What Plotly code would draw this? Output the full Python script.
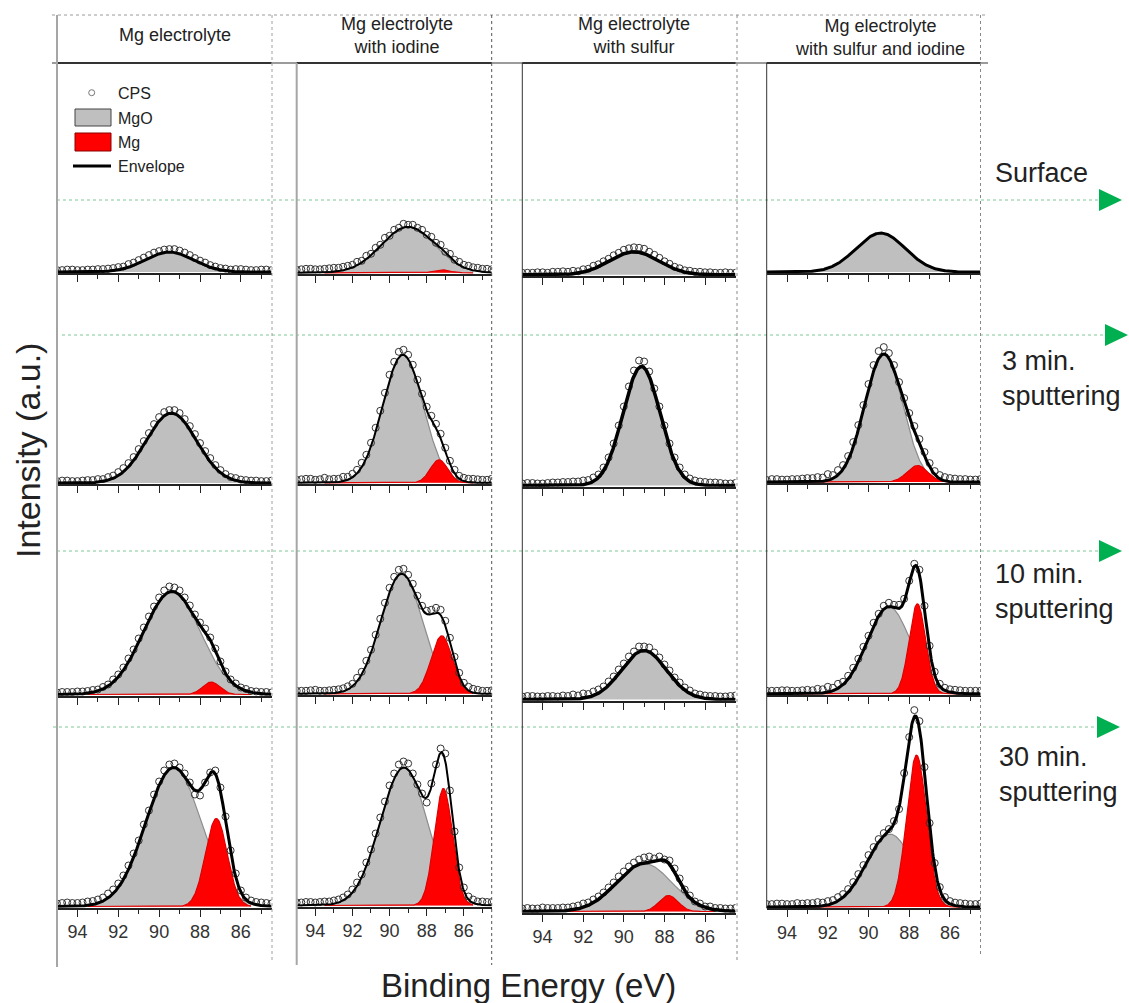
import numpy as np
import plotly.graph_objects as go

# ---------------- data ----------------
COLUMNS = ["Mg electrolyte", "Mg electrolyte<br>with iodine",
           "Mg electrolyte<br>with sulfur", "Mg electrolyte<br>with sulfur and iodine"]
ROWS = ["Surface", "3 min.<br>sputtering", "10 min.<br>sputtering", "30 min.<br>sputtering"]
X_TICKS = [94, 92, 90, 88, 86]
X_MINOR = [93, 91, 89, 87, 85]

# fitted components (rows: Surface, 3, 10, 30 min; columns as COLUMNS); intensity in a.u.
MGO_CENTER = [[89.5, 89.0, 89.5, 89.4],
              [89.4, 89.28, 89.13, 89.25],
              [89.37, 89.35, 89.01, 89.0],
              [89.29, 89.23, 89.0, 88.95]]
MGO_HEIGHT = [[20, 46, 23, 39],
              [70, 128, 119, 128],
              [103, 120, 49, 87],
              [139, 138, 48, 73]]
MGO_FWHM = [[2.8, 3.4, 2.85, 2.85],
            [2.9, 2.55, 2.15, 2.2],
            [3.3, 2.65, 2.6, 2.5],
            [3.2, 3.0, 3.2, 2.7]]
MG_CENTER = [[87.4, 87.2, 87.6, 87.6],
             [87.4, 87.34, 87.6, 87.6],
             [87.45, 87.19, 87.6, 87.6],
             [87.2, 87.1, 87.8, 87.64]]
MG_HEIGHT = [[0, 3, 0, 0],
             [0, 23, 0, 16.6],
             [12.4, 58, 0, 90],
             [88, 117, 16, 152]]
MG_FWHM = [[1.0, 1.0, 1.0, 1.0],
           [1.0, 1.1, 1.0, 1.2],
           [1.0, 1.35, 1.0, 0.95],
           [1.25, 1.15, 1.1, 1.15]]

# measured counts (CPS): two interleaved energy sets
CPS_ENERGY = [95.0, 94.5, 94.0, 93.5, 93.0, 92.5, 92.0, 91.5, 91.0, 90.5, 90.0,
              89.5, 89.0, 88.5, 88.0, 87.5, 87.0, 86.5, 86.0, 85.5, 85.0, 84.5]
CPS_ENERGY_B = [94.75, 94.25, 93.75, 93.25, 92.75, 92.25, 91.75, 91.25, 90.75, 90.25,
                89.75, 89.25, 88.75, 88.25, 87.75, 87.25, 86.75, 86.25, 85.75, 85.25, 84.75]

CPS_SURFACE = [
    [2, 2.5, 2, 2.5, 3, 3.5, 5, 8, 12, 17, 21, 23, 21.5, 17, 11.5, 7, 4, 2.5, 3, 2, 2.5, 2],
    [3, 4, 3.5, 4, 5, 6, 8, 12, 19, 28, 37, 45, 48, 45, 38, 30, 21, 13, 8, 5.5, 4, 3.5],
    [2, 2, 2.5, 3, 3.5, 4, 5.5, 9, 13.5, 19.5, 25, 27.5, 26, 20, 13.5, 8, 4.5, 3, 2.5, 2, 2.5, 2],
    [],
]
CPS_SURFACE_B = [
    [2, 2.5, 2, 2.5, 3, 4, 5.5, 9.5, 14.5, 19.5, 22.5, 23, 19.5, 14, 9.5, 5.5, 3.5, 3, 2.5, 2, 2.5],
    [3.5, 4, 3.5, 4.5, 5, 7, 11, 17, 25, 35, 43, 49, 48, 43, 36, 28, 19, 11, 7, 5, 4],
    [2, 2.5, 2, 3, 3, 3.5, 6, 10.5, 16, 22, 26.5, 27, 23, 17, 11, 6.5, 4, 3, 2.5, 2, 2],
    [],
]
CPS_3MIN = [
    [2, 2.5, 2, 3, 4, 6, 11, 20, 34, 50, 66, 73, 70, 57, 40, 25, 13, 6, 3.5, 2.5, 2, 2.5],
    [3, 4, 3, 5, 4, 6, 9, 20, 40, 72, 108, 131, 128, 103, 76, 59, 35, 13, 5, 4, 3, 4],
    [2, 2.5, 2, 3, 3.5, 4, 5, 8, 18, 42, 79, 115, 124, 97, 60, 28, 11, 5, 3.5, 3, 2, 2.5],
    [2, 3, 2.5, 3, 4, 5, 8, 12, 26, 57, 98, 131, 129, 100, 69, 43, 19, 7, 4, 3, 2.5, 3],
]
CPS_3MIN_B = [
    [2.5, 2, 2.5, 3, 4, 7.5, 15, 26, 42, 59, 71, 73, 64, 49, 32, 18, 9, 5, 3, 2.5, 2],
    [3.5, 4, 3.5, 3.5, 4, 6, 13, 28, 55, 90, 121, 133, 118, 89, 67, 49, 22, 7, 4, 3.5, 3],
    [2.5, 2, 2.5, 3, 3.5, 4, 5.5, 11, 28, 60, 99, 125, 114, 79, 42, 18, 7, 4, 3, 2.5, 2],
    [3, 2.5, 3, 3.5, 4, 4.5, 7, 17, 40, 77, 117, 135, 117, 84, 56, 30, 11, 5, 3.5, 3, 2.5],
]
CPS_10MIN = [
    [2, 2.5, 3, 3.5, 5, 10, 20, 36, 56, 78, 97, 108, 104, 89, 72, 57, 33, 15, 7, 3.5, 2.5, 2],
    [3, 3, 4, 3, 4, 5.5, 10, 22, 44, 75, 106, 124, 119, 98, 83, 86, 73, 37, 11, 5, 3, 3.5],
    [3, 3.5, 3, 3.5, 4, 5, 6, 8, 13, 23, 36, 48, 53, 47, 35, 22, 12, 6, 4, 3.5, 3, 4],
    [3, 3, 3.5, 3, 4, 5, 7, 10, 18, 35, 58, 80, 91, 89, 113, 124, 48, 10, 4.5, 3.5, 3, 3],
]
CPS_10MIN_B = [
    [2.5, 2.5, 3, 4.5, 7.5, 15, 27, 45, 67, 88, 104, 107, 97, 80, 66, 46, 23, 11, 5.5, 3, 2.5],
    [3, 3.5, 3, 3.5, 4.5, 7.5, 16, 33, 59, 91, 117, 125, 110, 88, 84, 84, 56, 21, 7, 4, 3],
    [3.5, 3, 3.5, 3, 3.5, 4, 5.5, 10, 18, 30, 43, 53, 52, 42, 29, 17, 9, 5, 3.5, 3, 3.5],
    [3, 3.5, 3, 3.5, 3.5, 4.5, 6, 12, 26, 47, 71, 88, 89, 95, 130, 88, 22, 6, 4, 3, 3],
]
CPS_30MIN = [
    [3, 4, 3.5, 5, 7, 13, 23, 41, 66, 96, 125, 142, 139, 124, 111, 134, 119, 56, 16, 6, 4, 3],
    [3, 3.5, 3, 4, 5, 8, 16, 31, 56, 88, 120, 141, 142, 121, 103, 141, 152, 74, 18, 6, 4, 3.5],
    [3, 3, 4, 3.5, 4, 5, 8, 12, 19, 29, 40, 49, 54, 53, 52, 43, 22, 10, 5, 3.5, 3, 3.5],
    [3, 3.5, 3, 4, 4, 5, 6, 10, 18, 33, 52, 68, 78, 98, 170, 186, 84, 20, 6, 4, 3, 3.5],
]
CPS_30MIN_B = [
    [3.5, 3.5, 4, 5.5, 9, 17, 31, 53, 82, 112, 136, 143, 133, 112, 124, 136, 90, 33, 9, 4.5, 3.5],
    [3, 3.5, 3.5, 4, 6, 11, 23, 43, 72, 104, 132, 144, 132, 112, 122, 157, 115, 38, 9, 4, 3.5],
    [3.5, 3, 3.5, 3.5, 4, 6, 9, 15, 24, 35, 45, 52, 55, 55, 51, 33, 16, 8, 5, 3.5, 3],
    [3, 3.5, 3, 3.5, 4, 4.5, 7, 13, 25, 42, 60, 74, 86, 134, 197, 140, 44, 10, 4.5, 3.5, 3],
]
CPS_ALL = [CPS_SURFACE, CPS_3MIN, CPS_10MIN, CPS_30MIN]
CPS_ALL_B = [CPS_SURFACE_B, CPS_3MIN_B, CPS_10MIN_B, CPS_30MIN_B]

# ---------------- layout geometry (pixels) ----------------
W, H = 1129, 1003
FONT = "Liberation Sans, Arial, sans-serif"
COL_X = [(57, 271.5), (296.7, 491.7), (522.3, 735.5), (766.7, 980.5)]
BASELINES = [[273.3, 484.3, 695.7, 907.7],
             [274, 484, 695, 906.7],
             [276, 486.7, 700.7, 912.7],
             [273.3, 483.3, 695, 908.3]]
PLOT_TOP = 63
ENV_WIDTH = [3, 2, 3.5, 3]


def px(x):
    return x / W


def py(y):
    return 1 - y / H


def peak(e, center, height, fwhm):
    # Gaussian line shape of a fitted XPS component
    return height * np.exp(-4 * np.log(2) * ((e - center) / fwhm) ** 2)


e_env = np.linspace(95, 84.5, 421)
e_fit = np.linspace(93.5, 85.5, 321)

fig = go.Figure()
layout = dict(width=W, height=H, margin=dict(l=0, r=0, t=0, b=0),
              paper_bgcolor="white", plot_bgcolor="rgba(0,0,0,0)",
              showlegend=False, font=dict(family=FONT, color="#222"))

for r in range(4):
    for c in range(4):
        k = r * 4 + c + 1
        xa = "x" if k == 1 else f"x{k}"
        ya = "y" if k == 1 else f"y{k}"
        top = PLOT_TOP if r == 0 else BASELINES[c][r - 1]
        bot = BASELINES[c][r]
        span = bot - top
        layout[f"xaxis{k}"] = dict(
            domain=[px(COL_X[c][0]), px(COL_X[c][1])], anchor=ya,
            range=[95, 84.5], showline=True, linecolor="#222", linewidth=2,
            ticks="outside", tickmode="array", tickvals=X_TICKS, ticklen=7,
            tickwidth=1, tickcolor="#222",
            minor=dict(tickmode="array", tickvals=X_MINOR, ticks="outside",
                       ticklen=4, tickwidth=1, tickcolor="#222"),
            showticklabels=(r == 3), tickfont=dict(size=18, color="#333"),
            showgrid=False, zeroline=False, fixedrange=True)
        layout[f"yaxis{k}"] = dict(
            domain=[py(bot), py(top)], anchor=xa, range=[-1.2, span - 1.2],
            visible=False, fixedrange=True)

        mgo = peak(e_fit, MGO_CENTER[r][c], MGO_HEIGHT[r][c], MGO_FWHM[r][c])
        fig.add_trace(go.Scatter(x=e_fit, y=mgo, xaxis=xa, yaxis=ya, mode="lines",
                                 fill="tozeroy", fillcolor="#bfbfbf",
                                 line=dict(color="#8c8c8c", width=1.2), hoverinfo="skip"))
        if MG_HEIGHT[r][c] > 0:
            mg = peak(e_fit, MG_CENTER[r][c], MG_HEIGHT[r][c], MG_FWHM[r][c])
            fig.add_trace(go.Scatter(x=e_fit, y=mg, xaxis=xa, yaxis=ya, mode="lines",
                                     fill="tozeroy", fillcolor="#ff0000",
                                     line=dict(color="#e00000", width=1.2), hoverinfo="skip"))
        cps_a = CPS_ALL[r][c]
        cps_b = CPS_ALL_B[r][c]
        if cps_a:
            fig.add_trace(go.Scatter(x=list(CPS_ENERGY) + list(CPS_ENERGY_B),
                                     y=list(cps_a) + list(cps_b), xaxis=xa, yaxis=ya,
                                     mode="markers",
                                     marker=dict(symbol="circle-open", size=7, color="#333",
                                                 line=dict(width=1))))
        env = (peak(e_env, MGO_CENTER[r][c], MGO_HEIGHT[r][c], MGO_FWHM[r][c]) +
               peak(e_env, MG_CENTER[r][c], MG_HEIGHT[r][c], MG_FWHM[r][c]))
        fig.add_trace(go.Scatter(x=e_env, y=env, xaxis=xa, yaxis=ya, mode="lines",
                                 line=dict(color="black", width=ENV_WIDTH[c]), hoverinfo="skip"))

shapes = []


def line(x0, y0, x1, y1, color, width, dash="solid", layer="above"):
    shapes.append(dict(type="line", xref="paper", yref="paper", x0=px(x0), y0=py(y0),
                       x1=px(x1), y1=py(y1), layer=layer,
                       line=dict(color=color, width=width, dash=dash)))


# header box
line(52, 15, 988, 15, "#9a9a9a", 1, "dot")
line(52, 63, 988, 63, "#7a7a7a", 1.5)
for x0, x1 in COL_X:
    line(x0, 63, x1, 63, "#333", 2)
# column borders
line(57, 15, 57, 967, "#a6a6a6", 2)
line(272, 15, 272, 963, "#a0a0a0", 1, "dot")
line(296.7, 63, 296.7, 965, "#a6a6a6", 2)
line(491.7, 15, 491.7, 965, "#555", 1, "dot")
line(522.3, 63, 522.3, 912.7, "#333", 1)
line(737, 15, 737, 963, "#888", 1, "dot")
line(766.7, 63, 766.7, 908.3, "#333", 1)
line(980.5, 15, 980.5, 955, "#888", 1, "dot")

# green guide lines and arrows
GREEN_Y = [200, 335, 551, 727]
GREEN_X0 = [57, 62, 57, 53]
ARROW_X = [1099, 1105, 1099, 1097]
for gy, gx0, ax in zip(GREEN_Y, GREEN_X0, ARROW_X):
    line(gx0, gy, ax, gy, "#7cc897", 1, "dot", layer="below")
    path = (f"M {px(ax)} {py(gy - 11)} L {px(ax)} {py(gy + 11)} "
            f"L {px(ax + 23)} {py(gy)} Z")
    shapes.append(dict(type="path", xref="paper", yref="paper", path=path,
                       fillcolor="#00b050", line=dict(width=0)))

# legend swatches
shapes.append(dict(type="circle", xref="paper", yref="paper", x0=px(88.7), x1=px(94.7),
                   y0=py(95.7), y1=py(89.7), line=dict(color="#777", width=1),
                   fillcolor="white"))
shapes.append(dict(type="rect", xref="paper", yref="paper", x0=px(75), x1=px(111),
                   y0=py(126), y1=py(109), line=dict(color="#444", width=1),
                   fillcolor="#bfbfbf"))
shapes.append(dict(type="rect", xref="paper", yref="paper", x0=px(75), x1=px(111),
                   y0=py(151), y1=py(133), line=dict(color="#8b0000", width=1),
                   fillcolor="#ff0000"))
line(73, 166, 111, 166, "black", 3)

annotations = []


def text(x, y, s, size, xanchor="center", yanchor="middle", align="center", angle=0):
    annotations.append(dict(xref="paper", yref="paper", x=px(x), y=py(y), text=s,
                            showarrow=False, xanchor=xanchor, yanchor=yanchor,
                            align=align, textangle=angle,
                            font=dict(size=size, family=FONT, color="#222")))


for label, yy in zip(["CPS", "MgO", "Mg", "Envelope"], [93, 118, 142, 166]):
    text(116, yy, label, 16, xanchor="left")

HEADER_POS = [(175, 35), (397, 35), (634, 35.5), (880, 38)]
for label, (hx, hy) in zip(COLUMNS, HEADER_POS):
    text(hx, hy, label, 18)

ROW_LABEL_POS = [(993, 173), (1000, 378.5), (993, 591.5), (997, 774)]
for label, (lx, ly) in zip(ROWS, ROW_LABEL_POS):
    text(lx, ly, label, 27, xanchor="left", align="left")

text(28, 451, "Intensity (a.u.)", 34, angle=-90)
text(528, 985, "Binding Energy (eV)", 33)

layout["shapes"] = shapes
layout["annotations"] = annotations
fig.update_layout(**layout)
fig.write_html("out.html", config={"displayModeBar": False},
               post_script="document.body.style.margin='0';"
                           "document.body.style.overflow='hidden';")
